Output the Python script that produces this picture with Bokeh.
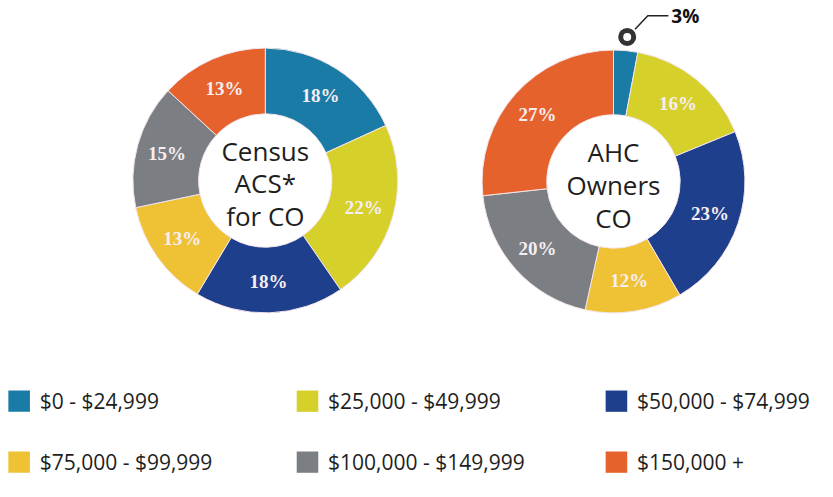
import math
from bokeh.plotting import figure
from bokeh.models import Range1d, ColumnDataSource
from bokeh.core.properties import value
from bokeh.embed import file_html
from bokeh.resources import INLINE

# ---- data ----
categories = ["$0 - $24,999", "$25,000 - $49,999", "$50,000 - $74,999",
              "$75,000 - $99,999", "$100,000 - $149,999", "$150,000 +"]
colors = ["#1a7ca6", "#d6d02b", "#1e3f8c", "#efc236", "#7b7e82", "#e6622d"]
census_values = [18, 22, 18, 13, 15, 13]
ahc_values = [3, 16, 23, 12, 20, 27]
census_title = ["Census", "ACS*", "for CO"]
ahc_title = ["AHC", "Owners", "CO"]

W, H = 817, 481
RW, RH = 833, 497  # reference coordinate frame
p = figure(width=W, height=H, output_backend="svg", toolbar_location=None,
           x_range=Range1d(0, RW), y_range=Range1d(0, RH),
           x_axis_type=None, y_axis_type=None, min_border=0)
p.grid.visible = False
p.outline_line_color = None
p.background_fill_color = "white"

def Y(y_img):
    return RH - y_img

def donut(cx, cy, values, title, tcy, r_in=68, r_out=135, label_r=104):
    total = float(sum(values))
    starts, ends, mids = [], [], []
    acc = 0.0
    for v in values:
        a0 = acc / total * 2 * math.pi
        acc += v
        a1 = acc / total * 2 * math.pi
        starts.append(math.pi / 2 - a0)
        ends.append(math.pi / 2 - a1)
        mids.append((a0 + a1) / 2)
    src = ColumnDataSource(dict(x=[cx] * len(values), y=[Y(cy)] * len(values),
                                s=starts, e=ends, c=colors))
    p.annular_wedge(x="x", y="y", inner_radius=r_in, outer_radius=r_out,
                    start_angle="s", end_angle="e", direction="clock",
                    fill_color="c", line_color="#f4e4ea", line_width=1, source=src)
    lx, ly, labels = [], [], []
    for v, m in zip(values, mids):
        if v < 5:
            continue  # small slices get a callout instead
        lx.append(cx + label_r * math.sin(m))
        ly.append(Y(cy) + label_r * math.cos(m))
        labels.append("%d%%" % v)
    lsrc = ColumnDataSource(dict(x=lx, y=ly, t=labels))
    p.text(x="x", y="y", text="t", source=lsrc, text_align="center",
           text_baseline="middle", text_font=value("Liberation Serif"),
           text_font_size="19px", text_font_style="bold", text_color="#f6eef2")
    ty = [Y(tcy - 34), Y(tcy), Y(tcy + 34)]
    p.text(x=[cx] * 3, y=ty, text=title, text_align="center",
           text_baseline="middle", text_font=value("Open Sans"),
           text_font_size="26px", text_color="#1e1e1e")
    return mids

donut(270, 186, census_values, census_title, 189)
mids = donut(625, 187, ahc_values, ahc_title, 191, r_out=134)

# callout for the small slice
m0 = mids[0]
mx = 625 + 150 * math.sin(m0)
my = Y(187) + 150 * math.cos(m0)
p.line(x=[mx + 8, mx + 21, mx + 42], y=[my + 8, my + 22, my + 22],
       line_color="#222222", line_width=1.5)
p.scatter(x=[mx], y=[my], marker="circle", size=13, fill_color="white",
          line_color="#333333", line_width=5)
p.text(x=[mx + 45], y=[my + 22], text=["%d%%" % ahc_values[0]],
       text_align="left", text_baseline="middle", text_font=value("Open Sans"),
       text_font_size="19px", text_font_style="bold", text_color="#111111")

# legend
col_x = [8, 302, 617]
row_y = [414, 477]
for i, (cat, col) in enumerate(zip(categories, colors)):
    r, c = divmod(i, 3)
    x0 = col_x[c]
    yc = Y(row_y[r])
    p.rect(x=[x0 + 11], y=[yc], width=22, height=22, fill_color=col,
           line_color=None)
    p.text(x=[x0 + 32], y=[yc], text=[cat], text_align="left",
           text_baseline="middle", text_font=value("Open Sans"),
           text_font_size="21px", text_color="#1e1e1e")

open("out.html", "w").write(file_html(p, INLINE))
